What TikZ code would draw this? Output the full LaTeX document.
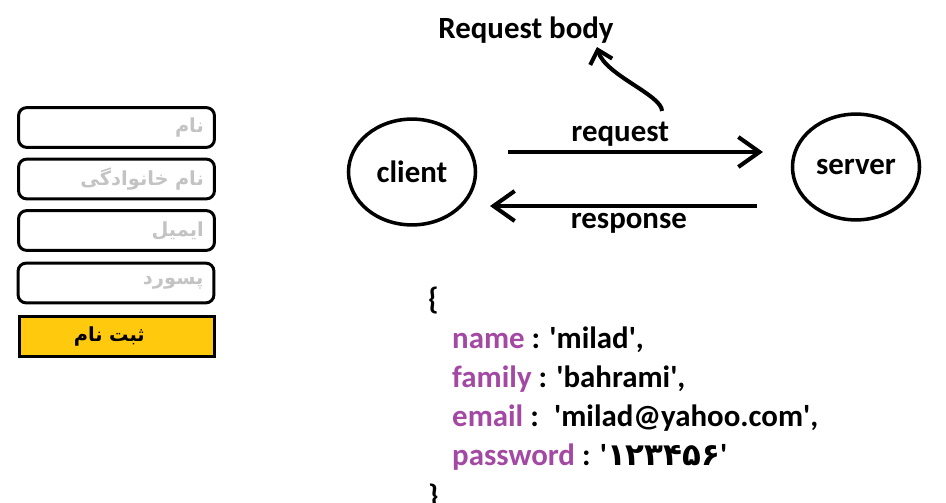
\documentclass[tikz,border=0pt]{standalone}
\usepackage{fontspec}
\setmainfont{Carlito}
\newfontfamily\farsi[Script=Arabic]{DejaVu Sans}
\TeXXeTstate=1
\usetikzlibrary{arrows.meta,shapes.geometric}
\definecolor{keypurple}{RGB}{163,73,164}
\definecolor{btngold}{RGB}{255,201,14}
\definecolor{hintgray}{RGB}{195,195,195}
\newcommand\sq{\textquotesingle}

\begin{document}
\begin{tikzpicture}[x=0.5669pt,y=-0.5669pt,
	font=\fontsize{17.5}{21}\selectfont\bfseries,
	peer/.style={ellipse,draw,line width=2pt,minimum width=72pt,minimum height=60pt,inner sep=0pt},
	field/.style={draw,line width=1.7pt,rounded corners=4.5pt,text width=99pt,align=right,inner xsep=6pt,minimum height=22.5pt,text=hintgray,font=\farsi\bfseries\fontsize{11}{13}\selectfont},
	msg/.style={line width=2.5pt,-{Straight Barb[length=12pt,width=17pt,line width=2.3pt]}},
	json/.style={anchor=base west}]
			\useasboundingbox (0,0) rectangle (946,502);
			% form
			\node[field] (fname) at (116.5,127.5) {\beginR نام\endR};
			\node[field] (ffamily) at (116.5,179) {\beginR نام خانوادگی\endR};
			\node[field] (femail) at (116.5,230.5) {\beginR ایمیل\endR};
			\node[field] (fpass) at (116,283) {\beginR پسورد\endR};
			\node[draw,line width=1.7pt,fill=btngold,text width=99pt,inner xsep=6pt,align=left,minimum height=23pt,font=\farsi\bfseries\fontsize{11}{13}\selectfont] (fsubmit) at (117,336.5) {\hspace*{25pt}\beginR ثبت نام\endR};
			% client / server
			\node[peer] (client) at (412,172) {client};
			\node[peer] (server) at (856,167) {server};
			\coordinate (reqfrom) at (508,152);
			\coordinate (reqto) at (763,152);
			\coordinate (resfrom) at (757,206);
			\coordinate (resto) at (490,206);
			\draw[msg] (reqfrom)--node[pos=0.44,anchor=base,yshift=6.2pt]{request}(reqto);
			\draw[msg] (resfrom)--node[pos=0.48,anchor=base,yshift=-13pt]{response}(resto);
			\node[anchor=base] (body) at (526,38) {Request body};
			\coordinate (bodyfrom) at (662,111);
			\coordinate (bodytip) at (597,47);
			\draw[line width=2.3pt,-{Straight Barb[length=7pt,width=13pt]}] (bodyfrom) .. controls (662,95) and (605,75) .. (bodytip);
			% json body
			\node[json] (jopen) at (422,309) {\{};
			\node[json] (jname) at (446,348) {\textcolor{keypurple}{name} : \sq milad\sq,};
			\node[json] (jfamily) at (446,387) {\textcolor{keypurple}{family} : \sq bahrami\sq,};
			\node[json] (jemail) at (446,426) {\textcolor{keypurple}{email} :\enspace\sq milad@yahoo.com\sq,};
			\node[json] (jpass) at (446,465) {\textcolor{keypurple}{password} : \sq{\farsi ۱۲۳۴۵۶}\sq};
			\node[json] (jclose) at (422,506) {\}};
		\end{tikzpicture}
\end{document}
